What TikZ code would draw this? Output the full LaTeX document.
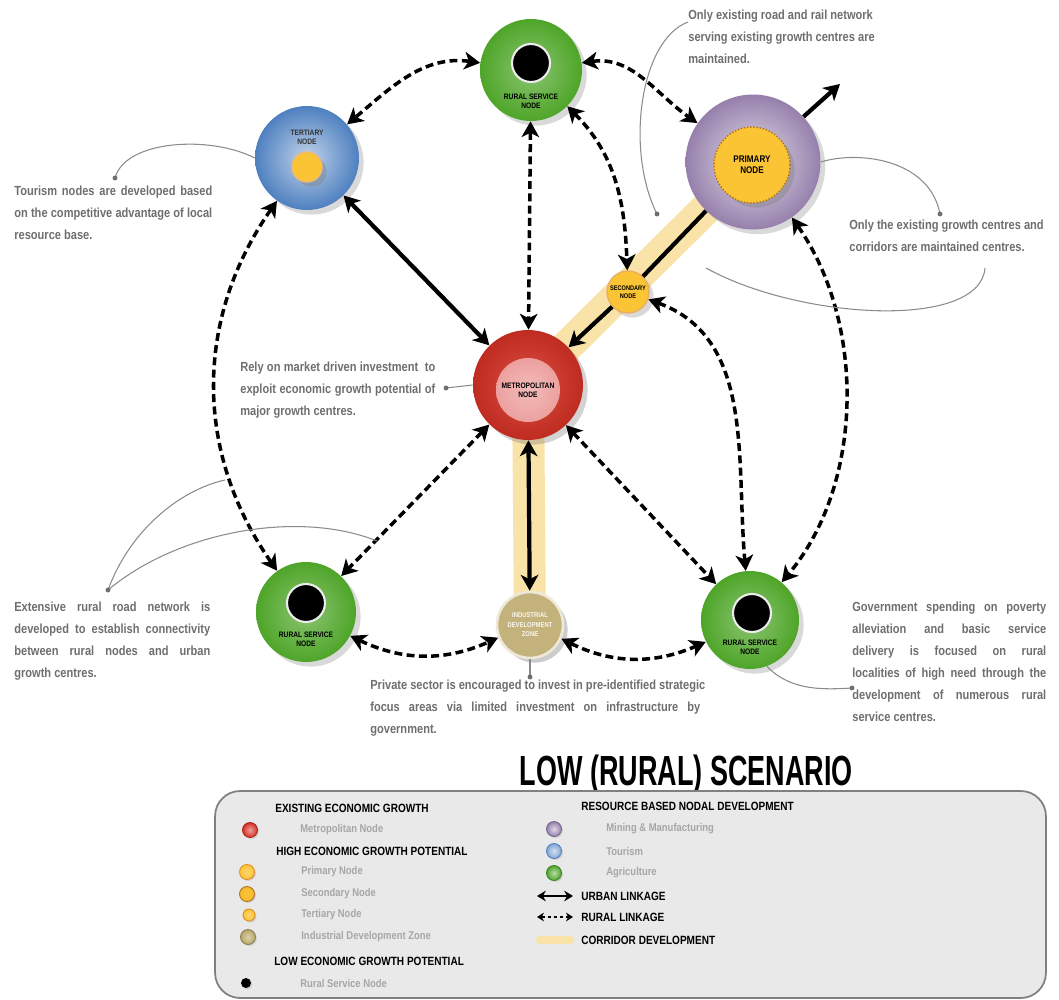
\documentclass[tikz,border=0pt]{standalone}
\usepackage{fontspec}
\setmainfont{Liberation Sans}
\newfontfamily\narrowfont[FakeStretch=0.84]{Liberation Sans}
\newfontfamily\titlefont[FakeStretch=0.64]{Liberation Sans}
\usetikzlibrary{arrows.meta, shadows}

\pgfdeclarelayer{background}
\pgfsetlayers{background,main}

\definecolor{ruralgreen}{RGB}{78,165,40}
\definecolor{tourblue}{RGB}{78,128,192}
\definecolor{minelilac}{RGB}{150,128,172}
\definecolor{metrored}{RGB}{212,48,36}
\definecolor{metropink}{RGB}{236,160,158}
\definecolor{nodeyellow}{RGB}{250,196,52}
\definecolor{nodeorange}{RGB}{225,140,30}
\definecolor{idzkhaki}{RGB}{196,178,124}
\definecolor{corridor}{RGB}{250,227,168}
\definecolor{notegray}{RGB}{110,110,110}
\definecolor{legendgray}{RGB}{233,233,233}

\newcommand{\fitline}[2]{\makebox[#1][s]{#2}}

\begin{document}
\begin{tikzpicture}[x=0.02cm, y=-0.02cm, >={Stealth[length=9pt, width=10pt, inset=2.5pt]},
    rural node/.style={circle, inner sep=0pt, inner color=ruralgreen!65!white, outer color=ruralgreen, drop shadow={opacity=0.3}},
    core/.style={circle, inner sep=0pt, minimum size=0.76cm, fill=black, draw=white!85!gray, line width=1.2pt},
    nodelabel/.style={font=\narrowfont\bfseries\fontsize{4.5}{5.2}\selectfont, align=center, inner sep=0pt},
    note/.style={font=\narrowfont\bfseries\fontsize{7.5}{12.5}\selectfont, text=notegray, align=left, inner sep=0pt, anchor=north west},
    leader/.style={notegray!80, line width=0.6pt},
    urban/.style={line width=2.4pt},
    rural/.style={line width=2pt, dash pattern=on 4.5pt off 2.5pt},
    corridorband/.style={corridor, line width=0.64cm},
    heading/.style={font=\narrowfont\bfseries\fontsize{6.8}{8}\selectfont, anchor=west, inner sep=0pt},
    item/.style={font=\narrowfont\bfseries\fontsize{6.4}{8}\selectfont, text=gray!70, anchor=west, inner sep=0pt},
    legball/.style={circle, inner sep=0pt, minimum size=0.3cm, line width=0.5pt, drop shadow={opacity=0.25, shadow xshift=0.8pt, shadow yshift=-0.8pt}}]
\useasboundingbox (0,0) rectangle (1059,1000);

% Nodes
\node (RuralTop) [rural node, minimum size=2.04cm] at (531,70) {};
\node (RuralTopCore) [core] at (531,63) {};
\node (RuralTopText) [nodelabel] at (531,101) {RURAL SERVICE\\NODE};

\node (Tertiary) [circle, inner sep=0pt, minimum size=2.08cm, inner color=tourblue!35!white, outer color=tourblue, drop shadow={opacity=0.3}] at (307,158) {};
\node (TertiaryText) [nodelabel, text=black!80] at (307,137) {TERTIARY\\NODE};
\node (TertiaryCore) [circle, inner sep=0pt, minimum size=0.6cm, fill=nodeyellow, draw=nodeorange!60, line width=0.8pt, drop shadow={opacity=0.4}] at (307,167) {};

\node (Primary) [circle, inner sep=0pt, minimum size=2.7cm, inner color=minelilac!25!white, outer color=minelilac, drop shadow={opacity=0.3}] at (753,162) {};
\node (PrimaryCore) [circle, inner sep=0pt, minimum size=1.52cm, fill=nodeyellow, draw=nodeorange!80!black, densely dotted, line width=0.8pt, drop shadow={opacity=0.4}] at (752,165) {};
\node (PrimaryText) [nodelabel, font=\narrowfont\bfseries\fontsize{5.5}{6.5}\selectfont] at (752,165) {PRIMARY\\NODE};

\node (Secondary) [circle, inner sep=0pt, minimum size=0.84cm, fill=nodeyellow, draw=nodeorange!70, line width=0.8pt, drop shadow={opacity=0.3}] at (628,292) {};
\node (SecondaryText) [nodelabel, font=\narrowfont\bfseries\fontsize{3.8}{4.4}\selectfont] at (628,292) {SECONDARY\\NODE};

\node (Metro) [circle, inner sep=0pt, minimum size=2.2cm, inner color=metrored!85!white, outer color=metrored!90!black, drop shadow={opacity=0.35}] at (528,385) {};
\node (MetroCore) [circle, inner sep=0pt, minimum size=1.28cm, inner color=metropink!70!white, outer color=metropink] at (528,390) {};
\node (MetroText) [nodelabel] at (528,390) {METROPOLITAN\\NODE};

\node (RuralLeft) [rural node, minimum size=2cm] at (306,612) {};
\node (RuralLeftCore) [core] at (306,603) {};
\node (RuralLeftText) [nodelabel] at (306,639) {RURAL SERVICE\\NODE};

\node (Industrial) [circle, inner sep=0pt, minimum size=1.32cm, fill=idzkhaki, draw=idzkhaki!30!white, line width=1.5pt, drop shadow={opacity=0.4}] at (530,625) {};
\node (IndustrialText) [nodelabel, text=white!90!idzkhaki, font=\narrowfont\bfseries\fontsize{4}{5.4}\selectfont] at (530,625) {INDUSTRIAL\\DEVELOPMENT\\ZONE};

\node (RuralRight) [rural node, minimum size=1.96cm] at (750,620) {};
\node (RuralRightCore) [core] at (752,613) {};
\node (RuralRightText) [nodelabel] at (750,647) {RURAL SERVICE\\NODE};

\coordinate (Exit) at (840,84);

% Corridors
\begin{pgfonlayer}{background}
\draw[corridorband] (Primary.center) -- (Metro.center);
\draw[corridorband] (Metro.center) -- (Industrial.center);
\end{pgfonlayer}

% Urban linkage
\draw[urban, <->] (Tertiary) -- (Metro);
\draw[urban, ->] (Secondary) -- (Metro);
\draw[urban] (Secondary) -- (Primary);
\draw[urban, ->] (Primary) -- (Exit);
\draw[urban, <->] (Metro) -- (Industrial);

% Rural linkage
\draw[rural, <->] (RuralTop) to[out=172, in=40] (Tertiary);
\draw[rural, <->] (RuralTop) to[out=8, in=145] (Primary);
\draw[rural, <->] (RuralTop) -- (Metro);
\draw[rural, <->] (RuralTop) to[out=-45, in=92] (Secondary);
\draw[rural, <->] (Tertiary) to[out=235, in=125] (RuralLeft);
\draw[rural, <->] (Primary) to[out=-55, in=50, looseness=0.9] (RuralRight);
\draw[rural, <->] (Secondary) to[out=-20, in=95] (RuralRight);
\draw[rural, <->] (Metro) -- (RuralLeft);
\draw[rural, <->] (Metro) -- (RuralRight);
\draw[rural, <->] (RuralLeft) to[bend right=25] (Industrial);
\draw[rural, <->] (Industrial) to[bend right=25] (RuralRight);

% Notes
\node (NoteNetwork) [note] at (688,10) {Only existing road and rail network\\serving existing growth centres are\\maintained.};
\node (NoteCentres) [note] at (849,220) {Only the existing growth centres and\\corridors are maintained centres.};
\node (NoteTourism) [note] at (14,186) {\fitline{3.96cm}{Tourism nodes are developed based}\\\fitline{3.96cm}{on the competitive advantage of local}\\resource base.};
\node (NoteMarket) [note] at (240,362) {\fitline{3.9cm}{Rely on market driven investment \ to}\\\fitline{3.9cm}{exploit economic growth potential of}\\major growth centres.};
\node (NoteRoads) [note] at (14,602) {\fitline{3.92cm}{Extensive rural road network is}\\\fitline{3.92cm}{developed to establish connectivity}\\\fitline{3.92cm}{between rural nodes and urban}\\growth centres.};
\node (NotePrivate) [note] at (370,680) {\fitline{6.7cm}{Private sector is encouraged to invest in pre-identified strategic}\\\fitline{6.6cm}{focus areas via limited investment on infrastructure by}\\government.};
\node (NoteSpending) [note] at (852,602) {\fitline{3.88cm}{Government spending on poverty}\\\fitline{3.88cm}{alleviation and basic service}\\\fitline{3.88cm}{delivery is focused on rural}\\\fitline{3.88cm}{localities of high need through the}\\\fitline{3.88cm}{development of numerous rural}\\service centres.};

% Leaders
\coordinate (NetworkEnd) at (657,214);
\coordinate (CentresDot) at (940,214);
\coordinate (CorridorEnd) at (706,268);
\coordinate (TourismDot) at (115,178);
\coordinate (MarketDot) at (446,388);
\coordinate (RoadsDot) at (108,590);
\coordinate (RoadsArc) at (225,480);
\coordinate (RoadsLine) at (377,541);
\coordinate (PrivateDot) at (530,677);
\coordinate (SpendingDot) at (852,688);
\draw[leader] (688,22) .. controls (640,40) and (625,150) .. (NetworkEnd);
\draw[leader] (CentresDot) .. controls (930,160) and (860,150) .. (Primary.east);
\draw[leader] (985,268) .. controls (980,330) and (800,320) .. (CorridorEnd);
\draw[leader] (TourismDot) .. controls (125,140) and (210,135) .. (Tertiary.west);
\draw[leader] (MarketDot) -- (Metro.west);
\draw[leader] (RoadsDot) .. controls (130,530) and (180,490) .. (RoadsArc);
\draw[leader] (RoadsDot) .. controls (180,530) and (300,510) .. (RoadsLine);
\draw[leader] (Industrial) -- (PrivateDot);
\draw[leader] (SpendingDot) .. controls (820,690) and (790,690) .. (RuralRight.-70);
\foreach \d in {NetworkEnd, CentresDot, TourismDot, MarketDot, RoadsDot, PrivateDot, SpendingDot}
  \fill[notegray] (\d) circle (1.4pt);

% Title and legend
\node (Title) [anchor=east, inner sep=0pt, font=\titlefont\bfseries\fontsize{24}{24}\selectfont] at (853,775) {LOW (RURAL) SCENARIO};
\node (Legend) [draw=gray, line width=1pt, fill=legendgray, rounded corners=0.5cm, minimum width=16.62cm, minimum height=4.14cm] at (630.5,894.5) {};

\node (LegExisting) [heading] at (275,808) {EXISTING ECONOMIC GROWTH};
\node (LegMetroBall) [legball, inner color=metropink, outer color=metrored, draw=metrored!80!black] at (250,830) {};
\node (LegMetro) [item] at (300,830) {Metropolitan Node};
\node (LegHigh) [heading] at (276,851) {HIGH ECONOMIC GROWTH POTENTIAL};
\node (LegPrimaryBall) [legball, inner color=nodeyellow!70!white, outer color=nodeyellow, draw=nodeorange] at (247,872) {};
\node (LegPrimary) [item] at (301,872) {Primary Node};
\node (LegSecondaryBall) [legball, inner color=nodeyellow, outer color=nodeyellow!80!nodeorange, draw=nodeorange!80!black] at (247,894) {};
\node (LegSecondary) [item] at (301,894) {Secondary Node};
\node (LegTertiaryBall) [legball, minimum size=0.24cm, inner color=nodeyellow!70!white, outer color=nodeyellow, draw=nodeorange] at (249,915) {};
\node (LegTertiary) [item] at (301,915) {Tertiary Node};
\node (LegIdzBall) [legball, inner color=idzkhaki!60!white, outer color=idzkhaki!80!olive, draw=idzkhaki!70!black] at (248,937) {};
\node (LegIdz) [item] at (301,937) {Industrial Development Zone};
\node (LegLow) [heading] at (274,961) {LOW ECONOMIC GROWTH POTENTIAL};
\node (LegRuralDot) [legball, minimum size=0.2cm, fill=black] at (246,983) {};
\node (LegRural) [item] at (300,983) {Rural Service Node};

\node (LegResource) [heading] at (581,806) {RESOURCE BASED NODAL DEVELOPMENT};
\node (LegMiningBall) [legball, inner color=minelilac!30!white, outer color=minelilac, draw=minelilac!80!black] at (554,829) {};
\node (LegMining) [item] at (606,829) {Mining \& Manufacturing};
\node (LegTourismBall) [legball, inner color=tourblue!25!white, outer color=tourblue!70!white, draw=tourblue] at (554,851) {};
\node (LegTourism) [item] at (606,851) {Tourism};
\node (LegAgriBall) [legball, inner color=ruralgreen!40!white, outer color=ruralgreen, draw=ruralgreen!80!black] at (554,873) {};
\node (LegAgri) [item] at (606,873) {Agriculture};
\coordinate (LegUrbanA) at (537,896);
\coordinate (LegUrbanB) at (573,896);
\node (LegUrban) [heading] at (581,896) {URBAN LINKAGE};
\coordinate (LegRuralA) at (537,917);
\coordinate (LegRuralB) at (573,917);
\node (LegRuralLink) [heading] at (581,917) {RURAL LINKAGE};
\coordinate (LegCorridorA) at (540,940);
\coordinate (LegCorridorB) at (570,940);
\node (LegCorridor) [heading] at (581,940) {CORRIDOR DEVELOPMENT};
\draw[line width=1.4pt, {Stealth[length=5pt, width=6pt]}-{Stealth[length=5pt, width=6pt]}] (LegUrbanA) -- (LegUrbanB);
\draw[line width=0.9pt, dash pattern=on 2pt off 1.5pt, {Stealth[length=4pt, width=5pt]}-{Stealth[length=4pt, width=5pt]}] (LegRuralA) -- (LegRuralB);
\draw[corridor, line width=0.17cm, line cap=round] (LegCorridorA) -- (LegCorridorB);
\end{tikzpicture}
\end{document}
